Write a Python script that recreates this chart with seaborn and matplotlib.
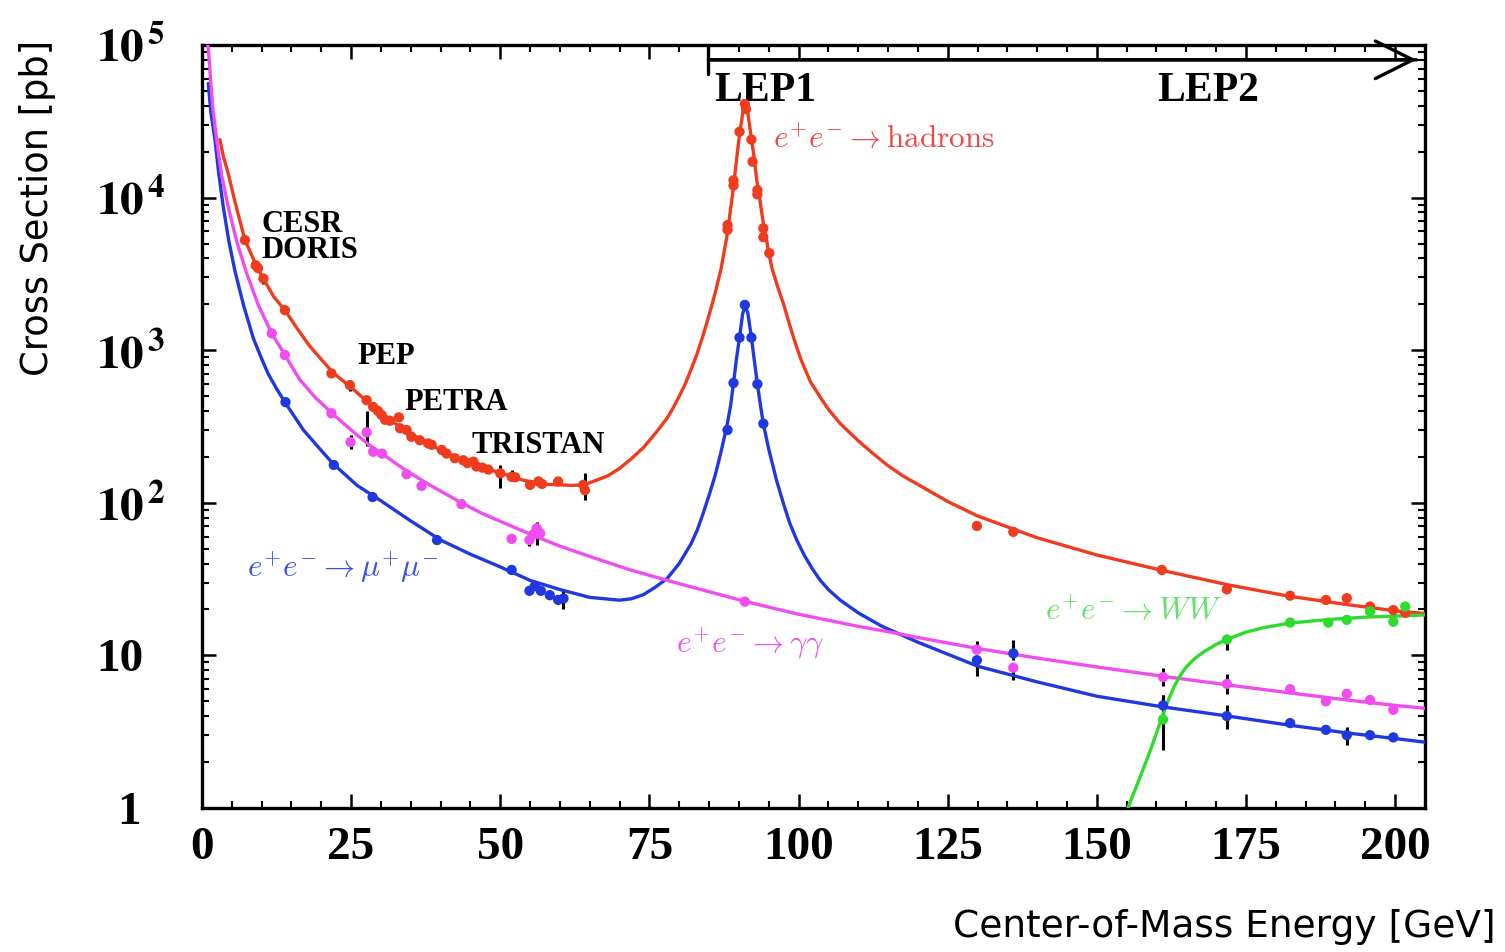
"""
e+e- cross sections vs centre-of-mass energy (LEP summary plot)
"""

import numpy as np
import pandas as pd
import matplotlib
matplotlib.use("Agg")
import matplotlib.pyplot as plt
from matplotlib.ticker import MultipleLocator, LogLocator, NullFormatter
from matplotlib.transforms import ScaledTranslation
import seaborn as sns

# ---- data ----
# theory curves
had_x = [3.0, 3.6, 4.4, 5.5, 7.2, 9.2, 10.3, 12.0, 13.9, 16.0, 18.0, 20.0, 22.0, 25.0, 28.0,
         31.0, 34.0, 37.0, 40.0, 43.0, 46.0, 50.0, 54.0, 58.0, 62.0, 64.0, 66.0, 68.0, 70.0,
         72.0, 74.0, 76.0, 78.0, 79.0, 80.0, 81.0, 82.0, 83.0, 84.0, 85.0, 86.0, 87.0, 88.0,
         89.0, 90.0, 90.6, 91.0, 91.5, 92.0, 92.5, 93.0, 93.5, 94.0, 94.5, 95.0, 95.5, 96.5,
         97.5, 98.5, 99.5, 100.5, 102.0, 103.6, 105.0, 107.0, 110.0, 112.5, 115.0, 117.5,
         120.0, 125.0, 130.0, 140.0, 150.0, 161.0, 172.0, 182.0, 192.0, 200.0, 205.0]
had_y = [24000, 18500, 14400, 9500, 5270, 3530, 2950, 2250, 1830, 1380, 1070, 870, 710, 570, 450,
         360, 300, 255, 222, 195, 175, 157, 140, 132, 130, 131, 140, 150, 168,
         195, 230, 285, 360, 420, 500, 600, 750, 950, 1250, 1700, 2350, 3400, 5600,
         11000, 24000, 35000, 41500, 36000, 26000, 19000, 13000, 9800, 7200, 5600, 4400, 3500, 2600,
         2000, 1470, 1100, 850, 620, 495, 410, 330, 255, 210, 175, 150,
         132, 102, 82, 59, 45.5, 36, 29, 24.5, 21.5, 19.6, 18.8]

mumu_x = [1.06, 1.5, 2.18, 2.8, 3.57, 4.5, 5.53, 7.0, 8.6, 10.0, 11.1, 12.5, 14.0, 17.0, 20.0,
          22.0, 26.0, 30.0, 35.0, 40.0, 45.0, 50.0, 55.0, 60.0, 65.0, 70.0, 72.0, 74.0, 76.0,
          78.0, 80.0, 82.0, 83.0, 84.0, 85.0, 86.0, 87.0, 88.0, 88.6, 89.1, 89.6, 90.1, 90.6,
          91.0, 91.5, 92.1, 92.6, 93.1, 93.6, 94.1, 95.0, 96.3, 97.5, 98.5, 99.7, 101.0, 102.3,
          103.6, 105.0, 107.0, 110.0, 114.0, 120.0, 130.0, 140.0, 150.0, 161.0, 172.0, 182.0,
          192.0, 200.0, 205.0]
mumu_y = [56000, 36000, 24000, 14500, 8700, 5200, 3300, 1950, 1200, 880, 700, 560, 450, 300, 220,
          180, 130, 103, 76, 57, 46, 38, 31, 27, 24, 23, 23.5, 25, 28,
          32, 40, 54, 66, 85, 112, 150, 215, 320, 430, 610, 880, 1210, 1700,
          1980, 1750, 1210, 850, 600, 440, 330, 225, 141, 98, 74, 57, 45, 37,
          31.2, 27, 23, 19, 15.5, 12.2, 8.5, 6.7, 5.4, 4.6, 4.0, 3.5,
          3.1, 2.85, 2.7]

gg_x = [0.8, 1.06, 1.79, 2.46, 3.3, 4.4, 5.8, 7.5, 9.5, 11.7, 13.9, 16.4, 19.0, 22.0, 25.0,
        28.0, 30.0, 34.0, 38.0, 43.5, 47.0, 52.0, 56.0, 60.0, 65.0, 71.8, 80.0, 91.0, 100.0,
        110.0, 115.0, 120.0, 130.0, 140.0, 150.0, 161.0, 172.0, 182.0, 192.0, 200.0, 205.0]
gg_y = [110000, 95000, 39500, 24000, 14000, 8700, 5200, 3180, 1950, 1290, 930, 640, 490, 380, 300,
        240, 212, 165, 132, 100, 85, 70, 60, 52, 44.5, 36.3, 29.5, 22.6, 18.6,
        15.5, 14.3, 13.1, 11.1, 9.6, 8.4, 7.3, 6.4, 5.7, 5.1, 4.7, 4.5]

ww_x = [155.2, 156.0, 157.0, 158.0, 159.0, 160.0, 161.0, 162.0, 163.0, 164.0, 165.0, 166.5,
        168.0, 170.0, 172.0, 175.0, 178.0, 182.0, 186.0, 190.0, 195.0, 200.0, 205.0]
ww_y = [1.0, 1.2, 1.5, 1.9, 2.4, 3.1, 4.0, 5.1, 6.3, 7.4, 8.4, 9.6,
        10.6, 11.8, 12.8, 14.2, 15.2, 16.2, 16.8, 17.3, 17.8, 18.1, 18.4]

# measurements
had_pts_x = [7.2, 9.0, 9.4, 10.3, 13.9, 21.7, 24.8, 27.6, 28.7, 29.5, 30.1, 30.7, 31.5, 33.0,
             33.2, 34.3, 35.1, 36.5, 37.9, 38.5, 40.2, 41.0, 42.4, 43.8, 44.5, 45.5, 46.0, 47.0,
             48.0, 50.0, 51.9, 52.5, 55.0, 56.4, 57.0, 59.7, 63.9, 64.2,
             88.1, 88.1, 89.1, 89.1, 90.1, 91.0, 91.2, 92.1, 92.3, 93.1, 93.1, 94.1, 94.1, 95.1,
             129.9, 136.0, 160.9, 171.8, 182.4, 188.4, 191.9, 195.8, 199.7, 201.7]
had_pts_y = [5270, 3600, 3450, 2950, 1830, 705, 590, 470, 425, 400, 376, 350, 345, 363,
             308, 300, 271, 257, 245, 240, 222, 210, 196, 190, 182, 186, 173, 170,
             165, 156, 148, 147, 131, 138, 133, 138, 131, 121,
             6600, 6150, 13000, 12000, 27000, 41000, 38000, 24000, 17200, 11200, 10500, 6300, 5500, 4330,
             70.5, 64.5, 36.3, 27.1, 24.6, 23.1, 23.7, 20.9, 19.8, 19.0]

mumu_pts_x = [14.0, 22.1, 28.6, 39.4, 51.9, 54.9, 55.8, 56.8, 58.3, 59.7, 60.6,
              88.1, 89.1, 90.1, 91.0, 92.1, 93.1, 94.1,
              129.9, 136.0, 161.1, 171.8, 182.4, 188.4, 191.9, 195.8, 199.7]
mumu_pts_y = [457, 177, 109, 57, 36.3, 26.5, 28.5, 26.5, 24.8, 23.1, 23.6,
              300, 610, 1210, 1980, 1210, 600, 330,
              9.3, 10.3, 4.7, 4.0, 3.6, 3.25, 3.0, 3.0, 2.9]

gg_pts_x = [11.7, 13.9, 21.7, 24.9, 27.6, 28.7, 30.2, 34.3, 36.8, 43.5, 51.9, 54.9, 55.5, 56.1,
            56.7, 91.0, 129.9, 136.0, 161.1, 171.8, 182.4, 188.4, 191.9, 195.8, 199.7]
gg_pts_y = [1290, 930, 386, 250, 290, 216, 210, 154, 129, 98, 58, 57, 62, 68,
            63, 22.5, 10.9, 8.3, 7.2, 6.5, 6.0, 5.0, 5.6, 5.1, 4.4]

ww_pts_x = [161.1, 171.8, 182.4, 188.8, 191.9, 195.8, 199.7, 201.7]
ww_pts_y = [3.8, 12.7, 16.4, 16.4, 17.1, 19.4, 16.6, 20.9]

# error bars (x, low, high)
err_x = [10.3, 24.8, 24.9, 27.6, 50.0, 52.0, 64.2, 54.9, 56.1, 60.6,
         129.9, 129.9, 136.0, 136.0, 161.1, 161.1, 161.1, 171.8, 171.8, 171.8, 191.9]
err_lo = [2700, 540, 225, 235, 125, 140, 104, 52, 52.5, 20,
          7.3, 10.3, 9.3, 6.9, 2.4, 4.2, 6.3, 3.3, 5.6, 10.8, 2.6]
err_hi = [3150, 640, 280, 400, 177, 165, 157, 63, 75, 27,
          9.5, 12.5, 12.6, 8.5, 5.5, 5.5, 8.3, 4.7, 7.5, 12.7, 3.4]

line_colors = {"had": "#f03c1e", "mumu": "#2038e0", "gg": "#f04cf0", "ww": "#2edc2e"}
label_colors = {"had": "#f04848", "mumu": "#3a50e6", "gg": "#e858e8", "ww": "#66e066"}

curves = pd.concat([
    pd.DataFrame({"E": had_x, "sigma": had_y, "proc": "had"}),
    pd.DataFrame({"E": mumu_x, "sigma": mumu_y, "proc": "mumu"}),
    pd.DataFrame({"E": gg_x, "sigma": gg_y, "proc": "gg"}),
    pd.DataFrame({"E": ww_x, "sigma": ww_y, "proc": "ww"}),
], ignore_index=True)

points = pd.concat([
    pd.DataFrame({"E": had_pts_x, "sigma": had_pts_y, "proc": "had"}),
    pd.DataFrame({"E": mumu_pts_x, "sigma": mumu_pts_y, "proc": "mumu"}),
    pd.DataFrame({"E": gg_pts_x, "sigma": gg_pts_y, "proc": "gg"}),
    pd.DataFrame({"E": ww_pts_x, "sigma": ww_pts_y, "proc": "ww"}),
], ignore_index=True)

# ---- style ----
sns.set_theme(style="ticks")
plt.rcParams["font.family"] = ["Liberation Serif", "DejaVu Serif"]
plt.rcParams["mathtext.fontset"] = "stix"
plt.rcParams["text.color"] = "black"
plt.rcParams["axes.labelcolor"] = "black"
plt.rcParams["xtick.color"] = "black"
plt.rcParams["ytick.color"] = "black"

fig = plt.figure(figsize=(15.05, 9.52), dpi=100)
ax = fig.add_axes([0.1342, 0.1513, 0.8126, 0.8014])
ax.set_yscale("log")

sns.lineplot(data=curves, x="E", y="sigma", hue="proc", units="proc", estimator=None,
             sort=False, palette=line_colors, linewidth=2.4, legend=False, ax=ax, zorder=3)

err_mid = [(lo + hi) / 2 for lo, hi in zip(err_lo, err_hi)]
err_half = [(hi - lo) / 2 for lo, hi in zip(err_lo, err_hi)]
ax.errorbar(err_x, err_mid, yerr=err_half, fmt="none", ecolor="black",
            elinewidth=2.2, capsize=0, zorder=2)

sns.scatterplot(data=points, x="E", y="sigma", hue="proc", palette=line_colors, s=55,
                edgecolor="none", legend=False, ax=ax, zorder=4)

ax.set_xlim(0, 205)
ax.set_ylim(1, 1e5)

# ticks
ax.xaxis.set_major_locator(MultipleLocator(25))
ax.xaxis.set_minor_locator(MultipleLocator(5))
ax.yaxis.set_major_locator(LogLocator(base=10, numticks=10))
ax.yaxis.set_minor_locator(LogLocator(base=10, subs=np.arange(2, 10), numticks=100))
ax.yaxis.set_minor_formatter(NullFormatter())
ax.tick_params(which="both", direction="in", top=True, right=True, colors="black")
ax.tick_params(which="major", length=10, width=1.8)
ax.tick_params(which="minor", length=5, width=1.5)
ax.tick_params(axis="x", which="major", pad=14, labelsize=34)
ax.tick_params(axis="y", which="major", pad=76)

ax.set_xticks([0, 25, 50, 75, 100, 125, 150, 175, 200])
ax.set_xticklabels(["0", "25", "50", "75", "100", "125", "150", "175", "200"],
                   fontweight="bold")

ytick_vals = [1, 10, 1e2, 1e3, 1e4, 1e5]
ytick_labels = ["1", "10", r"$\mathbf{10^{\,2}}$", r"$\mathbf{10^{\,3}}$",
                r"$\mathbf{10^{\,4}}$", r"$\mathbf{10^{\,5}}$"]
ax.set_yticks(ytick_vals)
ax.set_yticklabels(ytick_labels, fontweight="bold", fontsize=34)
for lab in ax.get_yticklabels():
    lab.set_horizontalalignment("left")
    if lab.get_text() == "1":
        lab.set_transform(lab.get_transform() + ScaledTranslation(0.21, 0, fig.dpi_scale_trans))

for sp in ax.spines.values():
    sp.set_linewidth(2.4)
    sp.set_color("black")

# axis titles
ax.set_ylabel("Cross Section [pb]", loc="top", fontsize=26.5, family="DejaVu Sans")
ax.yaxis.set_label_coords(-0.119, 1.007)
ax.set_xlabel("")
fig.text(0.994, 0.016, "Center-of-Mass Energy [GeV]", ha="right", va="baseline",
         fontsize=27, family="DejaVu Sans")

# LEP arrow: bar at the start, open head at the end
ax.annotate("", xy=(203.6, 8.0e4), xytext=(84.9, 8.0e4),
            arrowprops=dict(arrowstyle="->, head_length=0.9, head_width=0.45",
                            lw=2.4, color="black", mutation_scale=30, shrinkA=0, shrinkB=0))
ax.annotate("", xy=(203.6, 8.0e4), xytext=(84.9, 8.0e4),
            arrowprops=dict(arrowstyle="]-, widthA=0.35, lengthA=0",
                            lw=2.4, color="black", mutation_scale=30, shrinkA=0, shrinkB=0))
ax.text(85.8, 4.3e4, "LEP1", fontsize=30, fontweight="bold", va="baseline")
ax.text(160.1, 4.3e4, "LEP2", fontsize=30, fontweight="bold", va="baseline")

# accelerator names
ax.text(10.0, 5950, "CESR", fontsize=22, fontweight="bold", va="baseline")
ax.text(10.0, 4000, "DORIS", fontsize=22, fontweight="bold", va="baseline")
ax.text(26.0, 812, "PEP", fontsize=22, fontweight="bold", va="baseline")
ax.text(33.9, 405, "PETRA", fontsize=22, fontweight="bold", va="baseline")
ax.text(45.1, 212, "TRISTAN", fontsize=22, fontweight="bold", va="baseline")

# process labels
ax.text(95.7, 21100, r"$e^{+}e^{-}\rightarrow\mathrm{hadrons}$", color=label_colors["had"],
        fontsize=22.5, va="baseline", math_fontfamily="cm")
ax.text(7.5, 32.6, r"$e^{+}e^{-}\rightarrow\mu^{+}\mu^{-}$", color=label_colors["mumu"],
        fontsize=22.5, va="baseline", math_fontfamily="cm")
ax.text(79.5, 10.5, r"$e^{+}e^{-}\rightarrow\gamma\gamma$", color=label_colors["gg"],
        fontsize=22.5, va="baseline", math_fontfamily="cm")
ax.text(141.3, 17.1, r"$e^{+}e^{-}\rightarrow WW$", color=label_colors["ww"],
        fontsize=22.5, va="baseline", math_fontfamily="cm")

fig.savefig("out.png", dpi=100)
